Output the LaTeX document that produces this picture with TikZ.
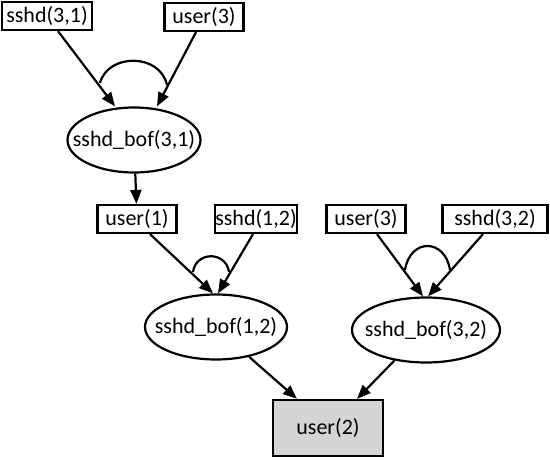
\documentclass[tikz,border=0pt]{standalone}
\usepackage{fontspec}
\setmainfont{Carlito}
\usetikzlibrary{arrows.meta,shapes.geometric}
\begin{document}
\begin{tikzpicture}[x=1pt,y=-1pt,line width=2.2pt,
  >={Triangle[length=14pt,width=11pt]},
  font=\fontsize{22}{25}\selectfont,
  fact/.style={draw,rectangle,inner sep=0pt,minimum height=28pt},
  exploit/.style={draw,ellipse,inner xsep=-15pt,inner ysep=0pt,minimum height=65pt},
  goal/.style={draw,rectangle,fill=black!17,minimum width=110pt,minimum height=56pt}]
\useasboundingbox (0,0) rectangle (550,460);

\node (sshd31) [fact,minimum width=90pt] at (47,16) {sshd(3,1)};
\node (user3a) [fact,minimum width=79pt] at (204,17) {user(3)};
\node (bof31) [exploit,minimum width=133pt] at (134,140) {sshd\_bof(3,1)};
\node (user1) [fact,minimum width=79pt] at (137,219) {user(1)};
\node (sshd12) [fact,minimum width=81pt] at (256,219) {sshd(1,2)};
\node (bof12) [exploit,minimum width=142pt] at (216,327) {sshd\_bof(1,2)};
\node (user3b) [fact,minimum width=79pt] at (366,219) {user(3)};
\node (sshd32) [fact,minimum width=105pt] at (495,219) {sshd(3,2)};
\node (bof32) [exploit,minimum width=148pt] at (426,330) {sshd\_bof(3,2)};
\node (user2) [goal] at (328,428) {user(2)};

\draw[->] ([xshift=11pt]sshd31.south) -- ([xshift=-19pt]bof31.north);
\draw[->] ([xshift=-8pt]user3a.south) -- ([xshift=23pt]bof31.north);
\draw[->] (bof31) -- (user1);
\draw[->] ([xshift=13pt]user1.south) -- ([xshift=-3pt]bof12.north);
\draw[->] ([xshift=-3pt]sshd12.south) -- ([xshift=2pt]bof12.north);
\draw[->] ([xshift=11pt]user3b.south) -- ([xshift=-3pt]bof32.north);
\draw[->] ([xshift=-12pt]sshd32.south) -- ([xshift=2pt]bof32.north);
\draw[->] (bof12.-42) -- ([xshift=-31pt]user2.north);
\draw[->] (bof32.-136) -- ([xshift=29pt]user2.north);

\draw (100,83) .. controls (108,53) and (160,53) .. (167,85);
\draw (193,272) .. controls (196,251) and (226,251) .. (229,272);
\draw (405,270) .. controls (410,238) and (445,238) .. (450,270);
\end{tikzpicture}
\end{document}
